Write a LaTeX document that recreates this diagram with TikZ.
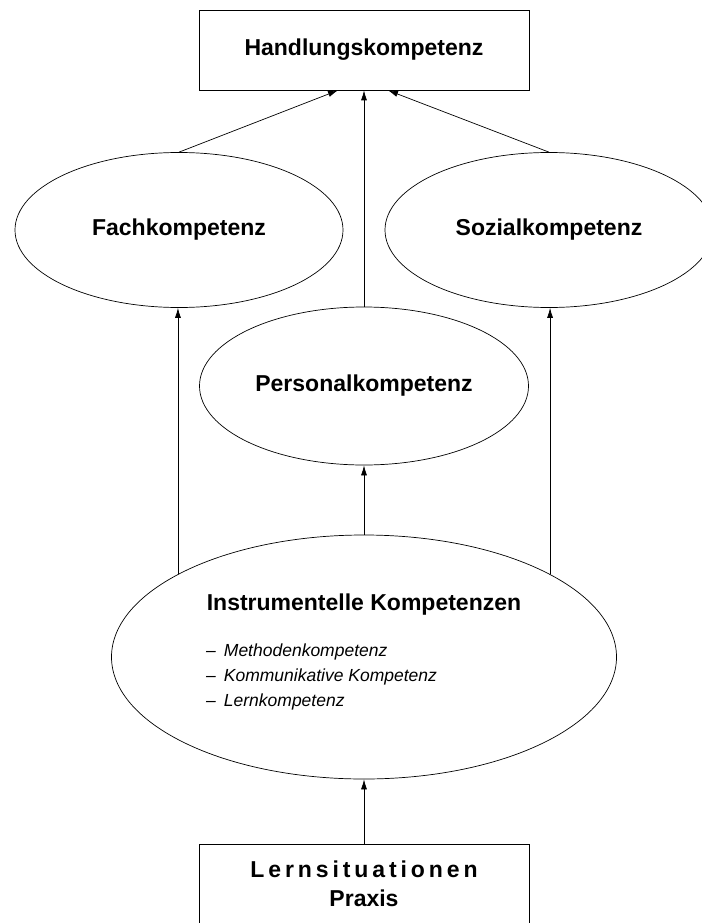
\documentclass[tikz,border=0pt]{standalone}
\usepackage{fontspec}
\setsansfont{Liberation Sans}
\usetikzlibrary{arrows.meta,calc,shapes.geometric}

\tikzset{
  kbox/.style={draw, line width=0.7pt, minimum width=330pt, minimum height=80pt,
    inner sep=0pt, align=center, font=\sffamily\bfseries\fontsize{23}{29}\selectfont},
  kell/.style={draw, ellipse, line width=0.7pt, inner sep=0pt,
    font=\sffamily\bfseries\fontsize{23}{27}\selectfont},
  pfeil/.style={-{Latex[length=10pt,width=6pt]}, line width=0.7pt},
}

\begin{document}
\begin{tikzpicture}[x=1pt,y=-1pt]
    \useasboundingbox (0,0) rectangle (701,923);
    \node[kbox] (hk) at (364,50) {Handlungskompetenz};
    \node[kell, minimum width=328pt, minimum height=155pt] (fach) at (179,230) {Fachkompetenz};
    \node[kell, minimum width=328pt, minimum height=155pt] (sozial) at (549,230) {Sozialkompetenz};
    \node[kell, minimum width=329pt, minimum height=158pt] (personal) at (364,386) {Personalkompetenz};
    \node[kell, minimum width=505pt, minimum height=244pt] (instr) at (364,657) {};
    \node[font=\sffamily\bfseries\fontsize{23}{27}\selectfont] (instrtitel) at (364,605) {Instrumentelle Kompetenzen};
    \node[anchor=west, align=left, inner sep=0pt,
      font=\sffamily\itshape\fontsize{17.5}{25}\selectfont] (instrliste) at (206,677)
      {--\hspace{8pt}Methodenkompetenz\\ --\hspace{8pt}Kommunikative Kompetenz\\ --\hspace{8pt}Lernkompetenz};
    \node[kbox] (lern) at (364,884) {{\addfontfeature{LetterSpace=17}Lernsituationen}\\ Praxis};
    % Pfeile nach oben
    \draw[pfeil] (fach.north) -- ($(hk.south)+(-26,0)$);
    \draw[pfeil] (personal.north) -- (hk.south);
    \draw[pfeil] (sozial.north) -- ($(hk.south)+(24,0)$);
    \draw[pfeil] (instr.156) -- (instr.156 |- fach.south);
    \draw[pfeil] (instr.24) -- (instr.24 |- sozial.south);
    \draw[pfeil] (instr.north) -- (personal.south);
    \draw[pfeil] (lern.north) -- (instr.south);
  \end{tikzpicture}
\end{document}
